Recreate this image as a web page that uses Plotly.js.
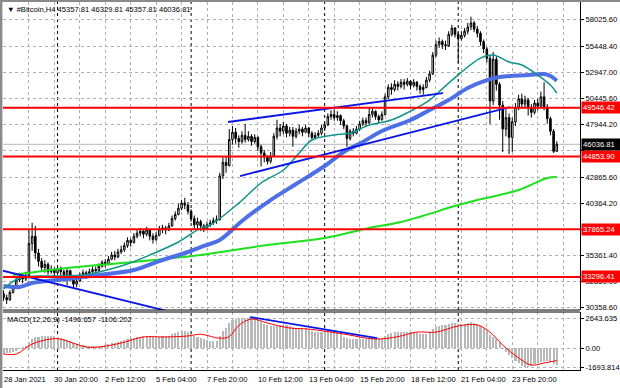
<!DOCTYPE html>
<html><head><meta charset="utf-8">
<script src="https://cdn.plot.ly/plotly-3.0.1.min.js"></script>
<style>html,body{margin:0;padding:0;background:#fff;}#chart{width:620px;height:388px;}</style>
</head><body><div id="chart"></div>
<script>
// ---------- DATA ----------
const symbolTitle = '#Bitcoin,H4';
const lastBar = [45357.81, 46329.81, 45357.81, 46036.81];

const opens = [31700,31300,31100,31800,32300,33000,33300,33100,33400,36500,37200,35600,34800,34200,34500,33800,34000,33700,34100,33800,
33500,33900,33200,32600,32900,33400,33700,33500,33800,34000,33900,34300,34700,34500,35000,35400,35200,35700,35900,36300,
36800,36600,37200,37500,37700,37400,37800,37200,36900,37300,37900,38000,37800,38200,38900,39300,39900,40400,40200,39600,
38900,38300,38600,38200,37900,38300,38500,38700,38800,43000,44300,44000,46500,47200,46600,46300,46900,46500,46800,46300,
46700,45800,45200,44800,44400,44900,46800,47600,47300,47800,47100,47400,46800,47300,47500,47200,47600,47100,46700,46900,
47100,47600,47900,48700,48900,48600,48800,48300,47800,46600,47300,47100,47500,48000,48300,48100,48900,49200,48700,48400,
48900,50600,51500,51300,51800,51600,52000,51800,52100,51700,52000,51600,51300,51500,52200,52800,54600,55600,55900,55600,
55500,56600,57200,56600,56200,56500,56900,57300,57700,57100,56700,55900,55200,54300,50200,54200,51800,49800,47500,48600,
46700,48200,49600,50400,49900,50300,49500,49100,50000,49700,50600,49600,48500,47300,45357.81];
const highs = [32000,31600,32000,32500,33300,33700,33600,33800,37800,38500,38200,36000,35100,34900,34700,34400,34200,34400,34300,34000,
34100,34000,33300,33200,33700,34000,33900,34100,34300,34300,34600,34900,35000,35300,35700,35800,36000,36300,36600,37100,
37000,37500,37900,38000,37900,38100,37900,37500,37600,38200,38300,38200,38500,39200,39600,40300,40700,40900,40500,39800,
39200,39000,38800,38400,38600,38800,39000,39200,43300,44800,44900,47500,47800,47600,46900,47300,48000,47300,47000,47000,
46800,46000,45500,45000,45300,47100,48400,48000,48200,48000,47700,47700,47600,47900,47700,47900,47700,47300,47200,47400,
47900,48200,49000,49300,49400,49200,48900,48500,47900,47500,47600,47800,48300,48600,48600,49600,49500,49300,48900,49200,
50900,51800,51900,52200,52100,52300,52300,52400,52200,52300,52100,51800,51800,52500,53100,54900,56000,56300,56100,56000,
56900,57500,57300,56800,56900,57200,57700,58300,57900,57400,56900,56100,55400,54600,54900,54500,52000,50200,49400,49000,
48600,50000,50800,50900,50700,50500,49900,50300,50400,51100,52000,49900,48700,47500,46329.81];
const lows = [31000,30700,31000,31700,32200,32800,32700,32900,33300,35800,35000,34300,33800,33700,33500,33600,33300,33500,33400,33000,
32500,32900,32200,32300,32800,33200,33100,33300,33500,33600,33800,34200,34200,34400,34900,34900,35100,35500,35700,36100,
36200,36500,37000,37200,37000,37200,36800,36500,36700,37200,37500,37400,37700,38100,38700,39200,39700,39800,39300,38600,
37900,37800,37700,37600,37800,38100,38300,38400,38700,42700,43300,43900,46000,46100,45700,46100,46200,46300,45900,46100,
45400,43900,44300,44100,44200,44800,46500,46800,47000,46700,46800,45800,46600,47000,46800,47100,46700,46400,46500,46700,
46900,47300,47800,48400,48300,48300,47900,47500,45800,46400,46800,47000,47300,47800,47700,48000,48600,48400,48100,48300,
48800,50400,50800,51100,51200,51400,51300,51600,51300,51500,51200,50900,50800,51400,52000,52700,54400,55300,55200,55100,
55400,56400,56300,53900,56000,56300,56600,57000,56800,56300,55500,54800,53900,48000,49800,51200,48400,45300,46800,45100,
45300,47800,49300,49500,49600,48800,48600,48900,49300,49500,49300,48000,46900,45200,45357.81];
const closes = [31300,31100,31800,32300,33000,33300,33100,33400,36500,37200,35600,34800,34200,34500,33800,34000,33700,34100,33800,33500,
33900,33200,32600,32900,33400,33700,33500,33800,34000,33900,34300,34700,34500,35000,35400,35200,35700,35900,36300,36800,
36600,37200,37500,37700,37400,37800,37200,36900,37300,37900,38000,37800,38200,38900,39300,39900,40400,40200,39600,38900,
38300,38600,38200,37900,38300,38500,38700,38800,43000,44300,44000,46500,47200,46600,46300,46900,46500,46800,46300,46700,
45800,45200,44800,44400,44900,46800,47600,47300,47800,47100,47400,46800,47300,47500,47200,47600,47100,46700,46900,47100,
47600,47900,48700,48900,48600,48800,48300,47800,46600,47300,47100,47500,48000,48300,48100,48900,49200,48700,48400,48900,
50600,51500,51300,51800,51600,52000,51800,52100,51700,52000,51600,51300,51500,52200,52800,54600,55600,55900,55600,55500,
56600,57200,56600,56200,56500,56900,57300,57700,57100,56700,55900,55200,54300,50200,54200,51800,49800,47500,48600,46700,
48200,49600,50400,49900,50300,49500,49100,50000,49700,50600,49600,48500,47300,45357.81,46036.81];

// moving averages (bar index, value)
const tealIdx = [0,5,11,18,25,30,38,46,55,62,65,74,81,88,93,97,104,109,115,122,128,134,140,150,154,159,163,168,172,174];
const tealVal = [32130,33190,33380,33380,33480,33770,34440,35400,36650,37990,38280,40390,42320,43570,45200,46450,46930,47120,47890,48370,49230,50290,51920,54320,54610,53940,53650,52690,51730,50960];
const blueIdx = [0,5,9,20,30,41,49,58,62,68,75,84,92,101,107,113,119,128,134,140,146,152,156,165,170,172,174];
const blueVal = [32420,32330,32710,33100,33480,33960,34820,35690,36170,36840,38670,40680,42220,43950,45300,46260,47310,48370,49330,50290,51440,52210,52500,52690,52790,52600,52150];
const greenIdx = [3,20,41,62,83,101,115,125,143,149,162,171,174];
const greenVal = [33480,34150,34730,35400,36360,37030,38000,38570,40200,40680,41640,42800,42890];

// trend lines (bar index, price)
const trendDownIdx = [-1.1,52], trendDownVal = [33960,29980];
const channelTopIdx = [70.6,138.2], channelTopVal = [48180,50960];
const channelLowIdx = [74.4,159.3], channelLowVal = [42990,49620];

// horizontal levels
const levels = [49546.42, 44853.90, 37865.24, 33296.41];
const bidPrice = 46036.81;

// MACD(12,26,9)
const macdHist = [-500,-480,-420,-350,-250,-100,50,150,500,800,950,1000,1050,1080,1060,1050,1020,980,900,800,
700,600,450,350,280,230,200,180,170,160,180,200,250,320,400,450,520,600,700,800,
850,900,950,1000,1020,1050,1000,950,950,1000,1030,1050,1100,1200,1300,1400,1500,1500,1400,1250,
1100,950,850,750,700,650,620,600,1100,1500,1800,2200,2450,2550,2600,2620,2643.635,2640,2600,2550,
2450,2300,2150,2000,1900,1950,2000,2050,2050,2000,1950,1850,1800,1780,1750,1720,1680,1500,1450,1400,
1400,1450,1500,1500,1450,1380,1250,1000,850,800,750,750,760,800,820,880,900,880,850,850,
1050,1250,1350,1400,1420,1420,1400,1400,1380,1350,1300,1250,1200,1250,1400,1650,1850,1950,2000,2050,
2150,2200,2200,2150,2150,2150,2200,2250,2200,2150,1950,1750,1500,1150,1000,800,500,0,-350,-600,
-900,-1150,-1350,-1550,-1650,-1693.814,-1600,-1450,-1350,-1250,-1150,-1150,-1250,-1450,-1496.657];
const sigIdx = [0,4,9,15,18,26,30,37,44,51,58,62,68,71,74,78,83,90,96,107,117,124,130,136,143,149,153,157,162,166,170,174];
const sigVal = [-530,-530,350,800,780,90,90,440,970,970,1060,1210,860,1000,2000,2550,2200,1760,1670,1230,790,1000,1400,1400,1940,2030,1400,260,-880,-1500,-1320,-1106.202];
const macdTrendIdx = [77.5,117.5], macdTrendVal = [2730,880];
const macdTitle = 'MACD(12,26,9) -1496.657 -1106.202';
const macdTicks = [2643.635, 0, -1693.814];
const macdTickText = ['2643.635','0.00','-1693.814'];

// axes
const priceTicks = [58025.60,55448.40,52947.00,50445.60,47944.20,45442.80,42865.60,40364.20,37862.80,35361.40,32860.00,30358.60];
const priceTickText = ['58025.60','55448.40','52947.00','50445.60','47944.20','','42865.60','40364.20','','35361.40','32860.00','30358.60'];
const timeLabelIdx = [0,16,32,48,64,80,96,112,128,144,160];
const timeLabels = ['28 Jan 2021','30 Jan 20:00','2 Feb 12:00','5 Feb 04:00','7 Feb 20:00','10 Feb 12:00','13 Feb 04:00','15 Feb 20:00','18 Feb 12:00','21 Feb 04:00','23 Feb 20:00'];
const separatorIdx = [17,59,101,143];

// ---------- CHART ----------
const FONT = '"Liberation Sans", Arial, sans-serif';
const FS = 7.6;
const idx = closes.map((_, i) => i);
const gridIdx = [];
for (let g = 0; g <= 180; g += 8) gridIdx.push(g);

const traces = [
  {type:'candlestick', x:idx, open:opens, high:highs, low:lows, close:closes, xaxis:'x', yaxis:'y',
   increasing:{line:{color:'#000',width:1}, fillcolor:'#ffffff'},
   decreasing:{line:{color:'#000',width:1}, fillcolor:'#000000'}, hoverinfo:'skip'},
  {type:'scatter', mode:'lines', x:greenIdx, y:greenVal, line:{color:'#1ee01e',width:2,shape:'spline'}, hoverinfo:'skip'},
  {type:'scatter', mode:'lines', x:blueIdx, y:blueVal, line:{color:'#4f6fe6',width:4,shape:'spline'}, hoverinfo:'skip'},
  {type:'scatter', mode:'lines', x:tealIdx, y:tealVal, line:{color:'#10948a',width:1.5,shape:'spline'}, hoverinfo:'skip'},
  {type:'scatter', mode:'lines', x:trendDownIdx, y:trendDownVal, line:{color:'#0a14e6',width:1.8}, hoverinfo:'skip'},
  {type:'scatter', mode:'lines', x:channelTopIdx, y:channelTopVal, line:{color:'#0a14e6',width:1.8}, hoverinfo:'skip'},
  {type:'scatter', mode:'lines', x:channelLowIdx, y:channelLowVal, line:{color:'#0a14e6',width:1.8}, hoverinfo:'skip'},
  {type:'bar', x:idx, y:macdHist, yaxis:'y2', marker:{color:'#b8b8b8',line:{width:0}}, width:0.66, hoverinfo:'skip'},
  {type:'scatter', mode:'lines', x:sigIdx, y:sigVal, yaxis:'y2', line:{color:'#ff0000',width:1,shape:'spline'}, hoverinfo:'skip'},
  {type:'scatter', mode:'lines', x:macdTrendIdx, y:macdTrendVal, yaxis:'y2', line:{color:'#0a14e6',width:1.8}, hoverinfo:'skip'}
];

const PW = 577, PH = 368;
const mainBottom = 0.163, macdTop = 0.1576;
const shapes = [];
separatorIdx.forEach(s => shapes.push({type:'line', xref:'x', yref:'paper', x0:s, x1:s, y0:0, y1:1, layer:'below', line:{color:'#000',width:1,dash:'dot'}}));
shapes.push({type:'line', xref:'paper', yref:'y', x0:0, x1:1, y0:bidPrice, y1:bidPrice, layer:'below', line:{color:'#b8b8b8',width:1}});
levels.forEach(v => shapes.push({type:'line', xref:'paper', yref:'y', x0:0, x1:1, y0:v, y1:v, layer:'above', line:{color:'#ff0000',width:2}}));
shapes.push({type:'line', xref:'paper', yref:'paper', x0:0, x1:1, y0:mainBottom, y1:mainBottom, line:{color:'#000',width:1}});
shapes.push({type:'line', xref:'paper', yref:'paper', x0:0, x1:1, y0:macdTop, y1:macdTop, line:{color:'#000',width:1}});
shapes.push({type:'rect', xref:'paper', yref:'paper', x0:-3/PW, x1:-0.6/PW, y0:-18/PH, y1:1+2/PH, fillcolor:'#8a8a8a', line:{width:0}});
shapes.push({type:'rect', xref:'paper', yref:'paper', x0:-3/PW, x1:1+40/PW, y0:1, y1:1+2/PH, fillcolor:'#8a8a8a', line:{width:0}});

const annotations = [];
annotations.push({xref:'paper', yref:'paper', x:0, y:1, xanchor:'left', yanchor:'top', xshift:2, yshift:-1, showarrow:false,
  text:'\u25BC ' + symbolTitle + ' ' + lastBar.map(v => v.toFixed(2)).join(' '), font:{family:FONT,size:FS,color:'#000'}});
annotations.push({xref:'paper', yref:'paper', x:0, y:macdTop, xanchor:'left', yanchor:'top', xshift:2, yshift:-1, showarrow:false,
  text:macdTitle, font:{family:FONT,size:FS,color:'#000'}});
timeLabelIdx.forEach((t, k) => annotations.push({xref:'x', yref:'paper', x:t, y:0, xanchor:'left', yanchor:'top', xshift:-2, yshift:-3,
  showarrow:false, text:timeLabels[k], font:{family:FONT,size:FS,color:'#000'}}));
levels.forEach(v => annotations.push({xref:'paper', yref:'y', x:1, y:v, xanchor:'left', yanchor:'middle', xshift:1, showarrow:false,
  text:v.toFixed(2), bgcolor:'#ff0000', borderpad:1, width:36, height:9, align:'left', font:{family:FONT,size:FS,color:'#ffffff'}}));
annotations.push({xref:'paper', yref:'y', x:1, y:bidPrice, xanchor:'left', yanchor:'middle', xshift:1, showarrow:false,
  text:bidPrice.toFixed(2), bgcolor:'#000000', borderpad:1, width:36, height:9, align:'left', font:{family:FONT,size:FS,color:'#ffffff'}});

const grid = {showgrid:true, gridcolor:'#b0b0b0', griddash:'dot', gridwidth:1};
const layout = {
  width:620, height:388,
  margin:{l:3, r:40, t:2, b:18},
  paper_bgcolor:'#ffffff', plot_bgcolor:'#ffffff',
  showlegend:false, hovermode:false,
  font:{family:FONT, size:FS, color:'#000'},
  xaxis:Object.assign({range:[-0.16,181.3], tickvals:gridIdx, showticklabels:false, ticks:'', zeroline:false,
    showline:true, linecolor:'#000', linewidth:1, anchor:'y2', rangeslider:{visible:false}, fixedrange:true}, grid),
  yaxis:Object.assign({domain:[mainBottom,1], range:[30117,59707], side:'right', anchor:'x', tickvals:priceTicks, ticktext:priceTickText,
    ticks:'outside', ticklen:3, tickcolor:'#000', tickfont:{family:FONT,size:FS,color:'#000'}, zeroline:false,
    showline:true, linecolor:'#000', linewidth:1, fixedrange:true}, grid),
  yaxis2:Object.assign({domain:[0,macdTop], range:[-1938,3172], side:'right', anchor:'x', tickvals:macdTicks, ticktext:macdTickText,
    ticks:'outside', ticklen:3, tickcolor:'#000', tickfont:{family:FONT,size:FS,color:'#000'}, zeroline:false,
    showline:true, linecolor:'#000', linewidth:1, fixedrange:true}, grid),
  bargap:0,
  shapes:shapes, annotations:annotations
};
Plotly.newPlot('chart', traces, layout, {staticPlot:true, displayModeBar:false});
</script></body></html>
